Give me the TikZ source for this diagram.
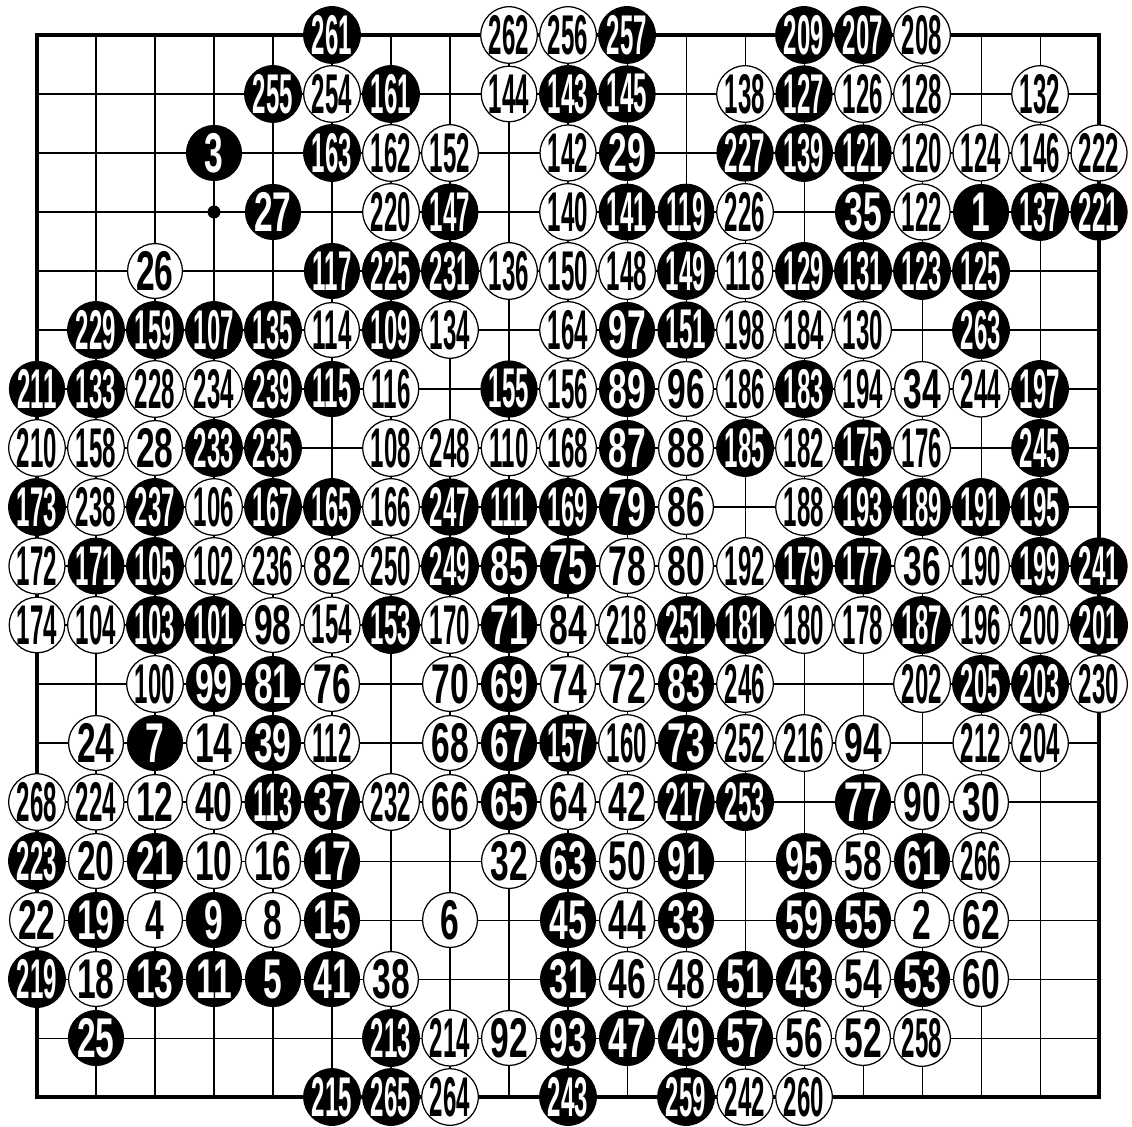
\documentclass[tikz,border=0pt]{standalone}
\usepackage{fontspec}
\setmainfont{Liberation Sans}
\usepackage{graphicx}

% move numbers: three digits are squeezed harder
\newcommand{\movenum}[1]{\ifnum#1>99 \scalebox{0.43}[1]{#1}\else\scalebox{0.6}[1]{#1}\fi}

\tikzset{
  gridline/.style={line width=0.5pt},
  boardedge/.style={line width=1.5pt},
  stone/.style={circle, minimum size=0.93cm, inner sep=0pt, line width=0.6pt,
    font=\fontsize{27}{27}\selectfont\bfseries},
  blackstone/.style={stone, fill=black, draw=black, text=white},
  whitestone/.style={stone, fill=white, draw=black, text=black},
}

\begin{document}
\begin{tikzpicture}
  \useasboundingbox (-0.627,0.593) rectangle (18.559,-18.492);

  % Board
  \draw[gridline] (0,0) grid (18,-18);
  \draw[boardedge] (0,0) rectangle (18,-18);
  \fill (3,-3) circle (0.11);

  % Black stones
  \foreach \c/\r/\n in {5/0/261, 10/0/257, 13/0/209, 14/0/207,
    4/1/255, 6/1/161, 9/1/143, 10/1/145, 13/1/127,
    3/2/3, 5/2/163, 10/2/29, 12/2/227, 13/2/139, 14/2/121,
    4/3/27, 7/3/147, 10/3/141, 11/3/119, 14/3/35, 16/3/1, 17/3/137, 18/3/221,
    5/4/117, 6/4/225, 7/4/231, 11/4/149, 13/4/129, 14/4/131, 15/4/123, 16/4/125,
    1/5/229, 2/5/159, 3/5/107, 4/5/135, 6/5/109, 10/5/97, 11/5/151, 16/5/263,
    0/6/211, 1/6/133, 4/6/239, 5/6/115, 8/6/155, 10/6/89, 13/6/183, 17/6/197,
    3/7/233, 4/7/235, 10/7/87, 12/7/185, 14/7/175, 17/7/245,
    0/8/173, 2/8/237, 4/8/167, 5/8/165, 7/8/247, 8/8/111, 9/8/169, 10/8/79,
    14/8/193, 15/8/189, 16/8/191, 17/8/195,
    1/9/171, 2/9/105, 7/9/249, 8/9/85, 9/9/75, 13/9/179, 14/9/177, 17/9/199, 18/9/241,
    2/10/103, 3/10/101, 6/10/153, 8/10/71, 11/10/251, 12/10/181, 15/10/187, 18/10/201,
    3/11/99, 4/11/81, 8/11/69, 11/11/83, 16/11/205, 17/11/203,
    2/12/7, 4/12/39, 8/12/67, 9/12/157, 11/12/73,
    4/13/113, 5/13/37, 8/13/65, 11/13/217, 12/13/253, 14/13/77,
    0/14/223, 2/14/21, 5/14/17, 9/14/63, 11/14/91, 13/14/95, 15/14/61,
    1/15/19, 3/15/9, 5/15/15, 9/15/45, 11/15/33, 13/15/59, 14/15/55,
    0/16/219, 2/16/13, 3/16/11, 4/16/5, 5/16/41, 9/16/31, 12/16/51, 13/16/43, 15/16/53,
    1/17/25, 6/17/213, 9/17/93, 10/17/47, 11/17/49, 12/17/57,
    5/18/215, 6/18/265, 9/18/243, 11/18/259}
    \node[blackstone] (m\n) at (\c,-\r) {\movenum{\n}};

  % White stones
  \foreach \c/\r/\n in {8/0/262, 9/0/256, 15/0/208,
    5/1/254, 8/1/144, 12/1/138, 14/1/126, 15/1/128, 17/1/132,
    6/2/162, 7/2/152, 9/2/142, 15/2/120, 16/2/124, 17/2/146, 18/2/222,
    6/3/220, 9/3/140, 12/3/226, 15/3/122,
    2/4/26, 8/4/136, 9/4/150, 10/4/148, 12/4/118,
    5/5/114, 7/5/134, 9/5/164, 12/5/198, 13/5/184, 14/5/130,
    2/6/228, 3/6/234, 6/6/116, 9/6/156, 11/6/96, 12/6/186, 14/6/194, 15/6/34, 16/6/244,
    0/7/210, 1/7/158, 2/7/28, 6/7/108, 7/7/248, 8/7/110, 9/7/168, 11/7/88, 13/7/182, 15/7/176,
    1/8/238, 3/8/106, 6/8/166, 11/8/86, 13/8/188,
    0/9/172, 3/9/102, 4/9/236, 5/9/82, 6/9/250, 10/9/78, 11/9/80, 12/9/192, 15/9/36, 16/9/190,
    0/10/174, 1/10/104, 4/10/98, 5/10/154, 7/10/170, 9/10/84, 10/10/218, 13/10/180,
    14/10/178, 16/10/196, 17/10/200,
    2/11/100, 5/11/76, 7/11/70, 9/11/74, 10/11/72, 12/11/246, 15/11/202, 18/11/230,
    1/12/24, 3/12/14, 5/12/112, 7/12/68, 10/12/160, 12/12/252, 13/12/216, 14/12/94,
    16/12/212, 17/12/204,
    0/13/268, 1/13/224, 2/13/12, 3/13/40, 6/13/232, 7/13/66, 9/13/64, 10/13/42, 15/13/90, 16/13/30,
    1/14/20, 3/14/10, 4/14/16, 8/14/32, 10/14/50, 14/14/58, 16/14/266,
    0/15/22, 2/15/4, 4/15/8, 7/15/6, 10/15/44, 15/15/2, 16/15/62,
    1/16/18, 6/16/38, 10/16/46, 11/16/48, 14/16/54, 16/16/60,
    7/17/214, 8/17/92, 13/17/56, 14/17/52, 15/17/258,
    7/18/264, 12/18/242, 13/18/260}
    \node[whitestone] (m\n) at (\c,-\r) {\movenum{\n}};
\end{tikzpicture}
\end{document}
